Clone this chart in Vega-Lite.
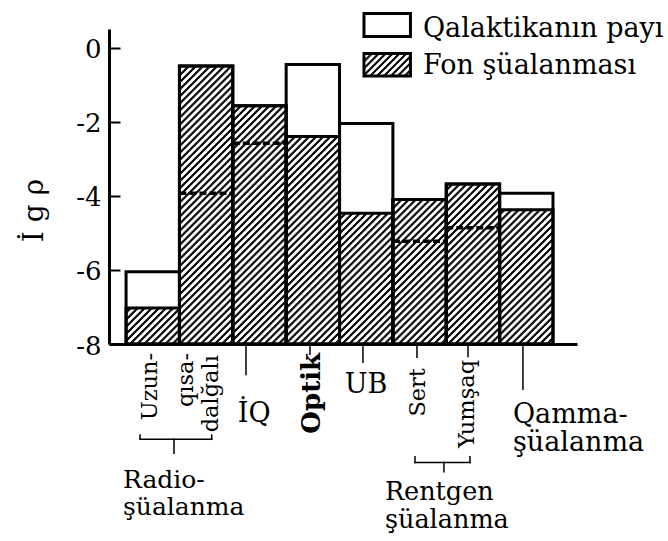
{
 "$schema": "https://vega.github.io/schema/vega-lite/v6.json",
 "width": 468,
 "height": 315,
 "autosize": {"type": "none"},
 "padding": {"left": 109, "top": 29, "right": 91, "bottom": 197},
 "background": "white",
 "config": {"view": {"stroke": null}, "font": "DejaVu Serif", "axis": {"grid": false}},
 "datasets": {
  "bars": [
   {"band": "Uzun", "x0": 0, "x1": 1, "top": -6.05, "fon": -7.03},
   {"band": "qısa", "x0": 1, "x1": 2, "top": -0.5, "fon": -0.5, "dash": -3.93},
   {"band": "İQ", "x0": 2, "x1": 3, "top": -1.57, "fon": -1.57, "dash": -2.58},
   {"band": "Optik", "x0": 3, "x1": 4, "top": -0.46, "fon": -2.4},
   {"band": "UB", "x0": 4, "x1": 5, "top": -2.05, "fon": -4.47},
   {"band": "Sert", "x0": 5, "x1": 6, "top": -4.1, "fon": -4.1, "dash": -5.23},
   {"band": "Yumşaq", "x0": 6, "x1": 7, "top": -3.68, "fon": -3.68, "dash": -4.86},
   {"band": "Qamma", "x0": 7, "x1": 8, "top": -3.93, "fon": -4.38}
  ],
  "hatcharea": [{"xa": 0, "xb": 8, "ya": -8, "yb": -0.45}],
  "tickmarks": [
   {"u": 2.247, "v": -8.84},
   {"u": 3.446, "v": -8.3},
   {"u": 4.439, "v": -8.51},
   {"u": 5.451, "v": -8.38},
   {"u": 6.407, "v": -8.36},
   {"u": 7.437, "v": -9.24}
  ],
  "brackets": [
   {"xa": 0.261, "xb": 1.604, "ya": -10.572, "yb": -10.572},
   {"xa": 0.261, "xb": 0.261, "ya": -10.572, "yb": -10.456},
   {"xa": 1.604, "xb": 1.604, "ya": -10.572, "yb": -10.456},
   {"xa": 0.898, "xb": 0.898, "ya": -10.572, "yb": -10.95},
   {"xa": 5.414, "xb": 6.444, "ya": -11.2, "yb": -11.2},
   {"xa": 5.414, "xb": 5.414, "ya": -11.2, "yb": -11.04},
   {"xa": 6.444, "xb": 6.444, "ya": -11.2, "yb": -11.04},
   {"xa": 5.957, "xb": 5.957, "ya": -11.2, "yb": -11.45}
  ],
  "vlabels": [
   {"t": "Uzun-", "u": 0.579, "v": -8.24},
   {"t": "qısa-", "u": 1.254, "v": -8.24},
   {"t": "dalğalı", "u": 1.722, "v": -8.3},
   {"t": "Sert", "u": 5.6, "v": -8.65},
   {"t": "Yumşaq", "u": 6.519, "v": -8.43}
  ],
  "optik": [{"t": "Optik", "u": 3.63, "v": -8.24}],
  "hlabels": [
   {"t": "İQ", "u": 2.4, "v": -10.1},
   {"t": "UB", "u": 4.495, "v": -9.32}
  ],
  "radio": [{"t": "Radio-\nşüalanma", "u": -0.058, "v": -11.886}],
  "rentgen": [{"t": "Rentgen\nşüalanma", "u": 4.85, "v": -12.21}],
  "gamma": [{"t": "Qamma-\nşüalanma", "u": 7.25, "v": -10.13}],
  "legendwhite": [{"xa": 4.458, "xb": 5.329, "ya": 0.917, "yb": 0.297}],
  "legendhatch": [{"xa": 4.458, "xb": 5.329, "ya": -0.162, "yb": -0.769}],
  "legendtext": [
   {"t": "Qalaktikanın payı", "u": 5.563, "v": 0.28},
   {"t": "Fon şüalanması", "u": 5.563, "v": -0.715}
  ]
 },
 "layer": [
  {
   "data": {"name": "hatcharea"},
   "mark": {"type": "rect", "strokeWidth": 0, "fill": {"gradient": "linear", "x1": 0, "y1": 0, "x2": 1.1581, "y2": 0.7589, "stops": [
{"offset":0.00,"color":"#111"},{"offset":0.003,"color":"#111"},{"offset":0.0045,"color":"#fff"},{"offset":0.0085,"color":"#fff"},
{"offset":0.01,"color":"#111"},{"offset":0.013,"color":"#111"},{"offset":0.0145,"color":"#fff"},{"offset":0.0185,"color":"#fff"},
{"offset":0.02,"color":"#111"},{"offset":0.023,"color":"#111"},{"offset":0.0245,"color":"#fff"},{"offset":0.0285,"color":"#fff"},
{"offset":0.03,"color":"#111"},{"offset":0.033,"color":"#111"},{"offset":0.0345,"color":"#fff"},{"offset":0.0385,"color":"#fff"},
{"offset":0.04,"color":"#111"},{"offset":0.043,"color":"#111"},{"offset":0.0445,"color":"#fff"},{"offset":0.0485,"color":"#fff"},
{"offset":0.05,"color":"#111"},{"offset":0.053,"color":"#111"},{"offset":0.0545,"color":"#fff"},{"offset":0.0585,"color":"#fff"},
{"offset":0.06,"color":"#111"},{"offset":0.063,"color":"#111"},{"offset":0.0645,"color":"#fff"},{"offset":0.0685,"color":"#fff"},
{"offset":0.07,"color":"#111"},{"offset":0.073,"color":"#111"},{"offset":0.0745,"color":"#fff"},{"offset":0.0785,"color":"#fff"},
{"offset":0.08,"color":"#111"},{"offset":0.083,"color":"#111"},{"offset":0.0845,"color":"#fff"},{"offset":0.0885,"color":"#fff"},
{"offset":0.09,"color":"#111"},{"offset":0.093,"color":"#111"},{"offset":0.0945,"color":"#fff"},{"offset":0.0985,"color":"#fff"},
{"offset":0.10,"color":"#111"},{"offset":0.103,"color":"#111"},{"offset":0.1045,"color":"#fff"},{"offset":0.1085,"color":"#fff"},
{"offset":0.11,"color":"#111"},{"offset":0.113,"color":"#111"},{"offset":0.1145,"color":"#fff"},{"offset":0.1185,"color":"#fff"},
{"offset":0.12,"color":"#111"},{"offset":0.123,"color":"#111"},{"offset":0.1245,"color":"#fff"},{"offset":0.1285,"color":"#fff"},
{"offset":0.13,"color":"#111"},{"offset":0.133,"color":"#111"},{"offset":0.1345,"color":"#fff"},{"offset":0.1385,"color":"#fff"},
{"offset":0.14,"color":"#111"},{"offset":0.143,"color":"#111"},{"offset":0.1445,"color":"#fff"},{"offset":0.1485,"color":"#fff"},
{"offset":0.15,"color":"#111"},{"offset":0.153,"color":"#111"},{"offset":0.1545,"color":"#fff"},{"offset":0.1585,"color":"#fff"},
{"offset":0.16,"color":"#111"},{"offset":0.163,"color":"#111"},{"offset":0.1645,"color":"#fff"},{"offset":0.1685,"color":"#fff"},
{"offset":0.17,"color":"#111"},{"offset":0.173,"color":"#111"},{"offset":0.1745,"color":"#fff"},{"offset":0.1785,"color":"#fff"},
{"offset":0.18,"color":"#111"},{"offset":0.183,"color":"#111"},{"offset":0.1845,"color":"#fff"},{"offset":0.1885,"color":"#fff"},
{"offset":0.19,"color":"#111"},{"offset":0.193,"color":"#111"},{"offset":0.1945,"color":"#fff"},{"offset":0.1985,"color":"#fff"},
{"offset":0.20,"color":"#111"},{"offset":0.203,"color":"#111"},{"offset":0.2045,"color":"#fff"},{"offset":0.2085,"color":"#fff"},
{"offset":0.21,"color":"#111"},{"offset":0.213,"color":"#111"},{"offset":0.2145,"color":"#fff"},{"offset":0.2185,"color":"#fff"},
{"offset":0.22,"color":"#111"},{"offset":0.223,"color":"#111"},{"offset":0.2245,"color":"#fff"},{"offset":0.2285,"color":"#fff"},
{"offset":0.23,"color":"#111"},{"offset":0.233,"color":"#111"},{"offset":0.2345,"color":"#fff"},{"offset":0.2385,"color":"#fff"},
{"offset":0.24,"color":"#111"},{"offset":0.243,"color":"#111"},{"offset":0.2445,"color":"#fff"},{"offset":0.2485,"color":"#fff"},
{"offset":0.25,"color":"#111"},{"offset":0.253,"color":"#111"},{"offset":0.2545,"color":"#fff"},{"offset":0.2585,"color":"#fff"},
{"offset":0.26,"color":"#111"},{"offset":0.263,"color":"#111"},{"offset":0.2645,"color":"#fff"},{"offset":0.2685,"color":"#fff"},
{"offset":0.27,"color":"#111"},{"offset":0.273,"color":"#111"},{"offset":0.2745,"color":"#fff"},{"offset":0.2785,"color":"#fff"},
{"offset":0.28,"color":"#111"},{"offset":0.283,"color":"#111"},{"offset":0.2845,"color":"#fff"},{"offset":0.2885,"color":"#fff"},
{"offset":0.29,"color":"#111"},{"offset":0.293,"color":"#111"},{"offset":0.2945,"color":"#fff"},{"offset":0.2985,"color":"#fff"},
{"offset":0.30,"color":"#111"},{"offset":0.303,"color":"#111"},{"offset":0.3045,"color":"#fff"},{"offset":0.3085,"color":"#fff"},
{"offset":0.31,"color":"#111"},{"offset":0.313,"color":"#111"},{"offset":0.3145,"color":"#fff"},{"offset":0.3185,"color":"#fff"},
{"offset":0.32,"color":"#111"},{"offset":0.323,"color":"#111"},{"offset":0.3245,"color":"#fff"},{"offset":0.3285,"color":"#fff"},
{"offset":0.33,"color":"#111"},{"offset":0.333,"color":"#111"},{"offset":0.3345,"color":"#fff"},{"offset":0.3385,"color":"#fff"},
{"offset":0.34,"color":"#111"},{"offset":0.343,"color":"#111"},{"offset":0.3445,"color":"#fff"},{"offset":0.3485,"color":"#fff"},
{"offset":0.35,"color":"#111"},{"offset":0.353,"color":"#111"},{"offset":0.3545,"color":"#fff"},{"offset":0.3585,"color":"#fff"},
{"offset":0.36,"color":"#111"},{"offset":0.363,"color":"#111"},{"offset":0.3645,"color":"#fff"},{"offset":0.3685,"color":"#fff"},
{"offset":0.37,"color":"#111"},{"offset":0.373,"color":"#111"},{"offset":0.3745,"color":"#fff"},{"offset":0.3785,"color":"#fff"},
{"offset":0.38,"color":"#111"},{"offset":0.383,"color":"#111"},{"offset":0.3845,"color":"#fff"},{"offset":0.3885,"color":"#fff"},
{"offset":0.39,"color":"#111"},{"offset":0.393,"color":"#111"},{"offset":0.3945,"color":"#fff"},{"offset":0.3985,"color":"#fff"},
{"offset":0.40,"color":"#111"},{"offset":0.403,"color":"#111"},{"offset":0.4045,"color":"#fff"},{"offset":0.4085,"color":"#fff"},
{"offset":0.41,"color":"#111"},{"offset":0.413,"color":"#111"},{"offset":0.4145,"color":"#fff"},{"offset":0.4185,"color":"#fff"},
{"offset":0.42,"color":"#111"},{"offset":0.423,"color":"#111"},{"offset":0.4245,"color":"#fff"},{"offset":0.4285,"color":"#fff"},
{"offset":0.43,"color":"#111"},{"offset":0.433,"color":"#111"},{"offset":0.4345,"color":"#fff"},{"offset":0.4385,"color":"#fff"},
{"offset":0.44,"color":"#111"},{"offset":0.443,"color":"#111"},{"offset":0.4445,"color":"#fff"},{"offset":0.4485,"color":"#fff"},
{"offset":0.45,"color":"#111"},{"offset":0.453,"color":"#111"},{"offset":0.4545,"color":"#fff"},{"offset":0.4585,"color":"#fff"},
{"offset":0.46,"color":"#111"},{"offset":0.463,"color":"#111"},{"offset":0.4645,"color":"#fff"},{"offset":0.4685,"color":"#fff"},
{"offset":0.47,"color":"#111"},{"offset":0.473,"color":"#111"},{"offset":0.4745,"color":"#fff"},{"offset":0.4785,"color":"#fff"},
{"offset":0.48,"color":"#111"},{"offset":0.483,"color":"#111"},{"offset":0.4845,"color":"#fff"},{"offset":0.4885,"color":"#fff"},
{"offset":0.49,"color":"#111"},{"offset":0.493,"color":"#111"},{"offset":0.4945,"color":"#fff"},{"offset":0.4985,"color":"#fff"},
{"offset":0.50,"color":"#111"},{"offset":0.503,"color":"#111"},{"offset":0.5045,"color":"#fff"},{"offset":0.5085,"color":"#fff"},
{"offset":0.51,"color":"#111"},{"offset":0.513,"color":"#111"},{"offset":0.5145,"color":"#fff"},{"offset":0.5185,"color":"#fff"},
{"offset":0.52,"color":"#111"},{"offset":0.523,"color":"#111"},{"offset":0.5245,"color":"#fff"},{"offset":0.5285,"color":"#fff"},
{"offset":0.53,"color":"#111"},{"offset":0.533,"color":"#111"},{"offset":0.5345,"color":"#fff"},{"offset":0.5385,"color":"#fff"},
{"offset":0.54,"color":"#111"},{"offset":0.543,"color":"#111"},{"offset":0.5445,"color":"#fff"},{"offset":0.5485,"color":"#fff"},
{"offset":0.55,"color":"#111"},{"offset":0.553,"color":"#111"},{"offset":0.5545,"color":"#fff"},{"offset":0.5585,"color":"#fff"},
{"offset":0.56,"color":"#111"},{"offset":0.563,"color":"#111"},{"offset":0.5645,"color":"#fff"},{"offset":0.5685,"color":"#fff"},
{"offset":0.57,"color":"#111"},{"offset":0.573,"color":"#111"},{"offset":0.5745,"color":"#fff"},{"offset":0.5785,"color":"#fff"},
{"offset":0.58,"color":"#111"},{"offset":0.583,"color":"#111"},{"offset":0.5845,"color":"#fff"},{"offset":0.5885,"color":"#fff"},
{"offset":0.59,"color":"#111"},{"offset":0.593,"color":"#111"},{"offset":0.5945,"color":"#fff"},{"offset":0.5985,"color":"#fff"},
{"offset":0.60,"color":"#111"},{"offset":0.603,"color":"#111"},{"offset":0.6045,"color":"#fff"},{"offset":0.6085,"color":"#fff"},
{"offset":0.61,"color":"#111"},{"offset":0.613,"color":"#111"},{"offset":0.6145,"color":"#fff"},{"offset":0.6185,"color":"#fff"},
{"offset":0.62,"color":"#111"},{"offset":0.623,"color":"#111"},{"offset":0.6245,"color":"#fff"},{"offset":0.6285,"color":"#fff"},
{"offset":0.63,"color":"#111"},{"offset":0.633,"color":"#111"},{"offset":0.6345,"color":"#fff"},{"offset":0.6385,"color":"#fff"},
{"offset":0.64,"color":"#111"},{"offset":0.643,"color":"#111"},{"offset":0.6445,"color":"#fff"},{"offset":0.6485,"color":"#fff"},
{"offset":0.65,"color":"#111"},{"offset":0.653,"color":"#111"},{"offset":0.6545,"color":"#fff"},{"offset":0.6585,"color":"#fff"},
{"offset":0.66,"color":"#111"},{"offset":0.663,"color":"#111"},{"offset":0.6645,"color":"#fff"},{"offset":0.6685,"color":"#fff"},
{"offset":0.67,"color":"#111"},{"offset":0.673,"color":"#111"},{"offset":0.6745,"color":"#fff"},{"offset":0.6785,"color":"#fff"},
{"offset":0.68,"color":"#111"},{"offset":0.683,"color":"#111"},{"offset":0.6845,"color":"#fff"},{"offset":0.6885,"color":"#fff"},
{"offset":0.69,"color":"#111"},{"offset":0.693,"color":"#111"},{"offset":0.6945,"color":"#fff"},{"offset":0.6985,"color":"#fff"},
{"offset":0.70,"color":"#111"},{"offset":0.703,"color":"#111"},{"offset":0.7045,"color":"#fff"},{"offset":0.7085,"color":"#fff"},
{"offset":0.71,"color":"#111"},{"offset":0.713,"color":"#111"},{"offset":0.7145,"color":"#fff"},{"offset":0.7185,"color":"#fff"},
{"offset":0.72,"color":"#111"},{"offset":0.723,"color":"#111"},{"offset":0.7245,"color":"#fff"},{"offset":0.7285,"color":"#fff"},
{"offset":0.73,"color":"#111"},{"offset":0.733,"color":"#111"},{"offset":0.7345,"color":"#fff"},{"offset":0.7385,"color":"#fff"},
{"offset":0.74,"color":"#111"},{"offset":0.743,"color":"#111"},{"offset":0.7445,"color":"#fff"},{"offset":0.7485,"color":"#fff"},
{"offset":0.75,"color":"#111"},{"offset":0.753,"color":"#111"},{"offset":0.7545,"color":"#fff"},{"offset":0.7585,"color":"#fff"},
{"offset":0.76,"color":"#111"},{"offset":0.763,"color":"#111"},{"offset":0.7645,"color":"#fff"},{"offset":0.7685,"color":"#fff"},
{"offset":0.77,"color":"#111"},{"offset":0.773,"color":"#111"},{"offset":0.7745,"color":"#fff"},{"offset":0.7785,"color":"#fff"},
{"offset":0.78,"color":"#111"},{"offset":0.783,"color":"#111"},{"offset":0.7845,"color":"#fff"},{"offset":0.7885,"color":"#fff"},
{"offset":0.79,"color":"#111"},{"offset":0.793,"color":"#111"},{"offset":0.7945,"color":"#fff"},{"offset":0.7985,"color":"#fff"},
{"offset":0.80,"color":"#111"},{"offset":0.803,"color":"#111"},{"offset":0.8045,"color":"#fff"},{"offset":0.8085,"color":"#fff"},
{"offset":0.81,"color":"#111"},{"offset":0.813,"color":"#111"},{"offset":0.8145,"color":"#fff"},{"offset":0.8185,"color":"#fff"},
{"offset":0.82,"color":"#111"},{"offset":0.823,"color":"#111"},{"offset":0.8245,"color":"#fff"},{"offset":0.8285,"color":"#fff"},
{"offset":0.83,"color":"#111"},{"offset":0.833,"color":"#111"},{"offset":0.8345,"color":"#fff"},{"offset":0.8385,"color":"#fff"},
{"offset":0.84,"color":"#111"},{"offset":0.843,"color":"#111"},{"offset":0.8445,"color":"#fff"},{"offset":0.8485,"color":"#fff"},
{"offset":0.85,"color":"#111"},{"offset":0.853,"color":"#111"},{"offset":0.8545,"color":"#fff"},{"offset":0.8585,"color":"#fff"},
{"offset":0.86,"color":"#111"},{"offset":0.863,"color":"#111"},{"offset":0.8645,"color":"#fff"},{"offset":0.8685,"color":"#fff"},
{"offset":0.87,"color":"#111"},{"offset":0.873,"color":"#111"},{"offset":0.8745,"color":"#fff"},{"offset":0.8785,"color":"#fff"},
{"offset":0.88,"color":"#111"},{"offset":0.883,"color":"#111"},{"offset":0.8845,"color":"#fff"},{"offset":0.8885,"color":"#fff"},
{"offset":0.89,"color":"#111"},{"offset":0.893,"color":"#111"},{"offset":0.8945,"color":"#fff"},{"offset":0.8985,"color":"#fff"},
{"offset":0.90,"color":"#111"},{"offset":0.903,"color":"#111"},{"offset":0.9045,"color":"#fff"},{"offset":0.9085,"color":"#fff"},
{"offset":0.91,"color":"#111"},{"offset":0.913,"color":"#111"},{"offset":0.9145,"color":"#fff"},{"offset":0.9185,"color":"#fff"},
{"offset":0.92,"color":"#111"},{"offset":0.923,"color":"#111"},{"offset":0.9245,"color":"#fff"},{"offset":0.9285,"color":"#fff"},
{"offset":0.93,"color":"#111"},{"offset":0.933,"color":"#111"},{"offset":0.9345,"color":"#fff"},{"offset":0.9385,"color":"#fff"},
{"offset":0.94,"color":"#111"},{"offset":0.943,"color":"#111"},{"offset":0.9445,"color":"#fff"},{"offset":0.9485,"color":"#fff"},
{"offset":0.95,"color":"#111"},{"offset":0.953,"color":"#111"},{"offset":0.9545,"color":"#fff"},{"offset":0.9585,"color":"#fff"},
{"offset":0.96,"color":"#111"},{"offset":0.963,"color":"#111"},{"offset":0.9645,"color":"#fff"},{"offset":0.9685,"color":"#fff"},
{"offset":0.97,"color":"#111"},{"offset":0.973,"color":"#111"},{"offset":0.9745,"color":"#fff"},{"offset":0.9785,"color":"#fff"},
{"offset":0.98,"color":"#111"},{"offset":0.983,"color":"#111"},{"offset":0.9845,"color":"#fff"},{"offset":0.9885,"color":"#fff"},
{"offset":0.99,"color":"#111"},{"offset":0.993,"color":"#111"},{"offset":0.9945,"color":"#fff"},{"offset":0.9985,"color":"#fff"}
   ]}},
   "encoding": {
    "x": {"field": "xa", "type": "quantitative", "scale": {"domain": [-0.32, 8.45], "nice": false, "zero": false},
     "axis": {"title": null, "labels": false, "ticks": false, "grid": false, "domainColor": "black", "domainWidth": 3, "zindex": 1}},
    "x2": {"field": "xb"},
    "y": {"field": "ya", "type": "quantitative", "scale": {"domain": [-8, 0.5], "nice": false, "zero": false},
     "axis": {"title": "İ g ρ", "titleFont": "DejaVu Serif", "titleFontSize": 28, "titleFontWeight": "normal", "titleColor": "black",
      "titleAngle": -90, "titleX": -67, "titleY": 181, "titleAlign": "center", "titleBaseline": "alphabetic",
      "values": [0, -2, -4, -6, -8], "labelExpr": "'' + datum.value", "labelFont": "DejaVu Serif", "labelFontSize": 26,
      "labelColor": "black", "labelPadding": 19, "labelOffset": 2, "labelBaseline": "middle", "labelOverlap": false, "labelFlush": false,
      "tickSize": -11, "tickWidth": 2, "tickColor": "black", "domainColor": "black", "domainWidth": 3, "grid": false, "zindex": 1}},
    "y2": {"field": "yb"}
   }
  },
  {
   "data": {"name": "bars"},
   "mark": {"type": "rect", "fill": "white", "stroke": "white", "strokeWidth": 1.5},
   "encoding": {
    "x": {"field": "x0", "type": "quantitative"},
    "x2": {"field": "x1"},
    "y": {"field": "fon", "type": "quantitative"},
    "y2": {"datum": 0.5}
   }
  },
  {
   "data": {"name": "bars"},
   "mark": {"type": "rect", "fill": "transparent", "stroke": "black", "strokeWidth": 3},
   "encoding": {
    "x": {"field": "x0", "type": "quantitative"},
    "x2": {"field": "x1"},
    "y": {"field": "top", "type": "quantitative"},
    "y2": {"datum": -8}
   }
  },
  {
   "data": {"name": "bars"},
   "mark": {"type": "rect", "fill": "transparent", "stroke": "black", "strokeWidth": 3},
   "encoding": {
    "x": {"field": "x0", "type": "quantitative"},
    "x2": {"field": "x1"},
    "y": {"field": "fon", "type": "quantitative"},
    "y2": {"datum": -8}
   }
  },
  {
   "data": {"name": "bars"},
   "transform": [{"filter": "isValid(datum.dash)"}],
   "mark": {"type": "rule", "color": "black", "strokeWidth": 3.5, "strokeDash": [7, 3]},
   "encoding": {
    "x": {"field": "x0", "type": "quantitative"},
    "x2": {"field": "x1"},
    "y": {"field": "dash", "type": "quantitative"}
   }
  },
  {
   "data": {"name": "tickmarks"},
   "mark": {"type": "rule", "color": "black", "strokeWidth": 1.5},
   "encoding": {
    "x": {"field": "u", "type": "quantitative"},
    "y": {"field": "v", "type": "quantitative"},
    "y2": {"datum": -8}
   }
  },
  {
   "data": {"name": "brackets"},
   "mark": {"type": "rule", "color": "black", "strokeWidth": 1.5, "strokeCap": "square"},
   "encoding": {
    "x": {"field": "xa", "type": "quantitative"},
    "x2": {"field": "xb"},
    "y": {"field": "ya", "type": "quantitative"},
    "y2": {"field": "yb"}
   }
  },
  {
   "data": {"name": "vlabels"},
   "mark": {"type": "text", "angle": 270, "align": "right", "baseline": "alphabetic", "font": "DejaVu Serif", "fontSize": 22.5, "color": "black"},
   "encoding": {
    "x": {"field": "u", "type": "quantitative"},
    "y": {"field": "v", "type": "quantitative"},
    "text": {"field": "t"}
   }
  },
  {
   "data": {"name": "optik"},
   "mark": {"type": "text", "angle": 270, "align": "right", "baseline": "alphabetic", "font": "DejaVu Serif", "fontSize": 26, "fontWeight": "bold", "color": "black"},
   "encoding": {
    "x": {"field": "u", "type": "quantitative"},
    "y": {"field": "v", "type": "quantitative"},
    "text": {"field": "t"}
   }
  },
  {
   "data": {"name": "hlabels"},
   "mark": {"type": "text", "align": "center", "baseline": "alphabetic", "font": "DejaVu Serif", "fontSize": 27, "color": "black"},
   "encoding": {
    "x": {"field": "u", "type": "quantitative"},
    "y": {"field": "v", "type": "quantitative"},
    "text": {"field": "t"}
   }
  },
  {
   "data": {"name": "radio"},
   "mark": {"type": "text", "align": "left", "baseline": "alphabetic", "font": "DejaVu Serif", "fontSize": 25, "lineHeight": 27, "lineBreak": "\n", "color": "black"},
   "encoding": {
    "x": {"field": "u", "type": "quantitative"},
    "y": {"field": "v", "type": "quantitative"},
    "text": {"field": "t"}
   }
  },
  {
   "data": {"name": "rentgen"},
   "mark": {"type": "text", "align": "left", "baseline": "alphabetic", "font": "DejaVu Serif", "fontSize": 25.5, "lineHeight": 28, "lineBreak": "\n", "color": "black"},
   "encoding": {
    "x": {"field": "u", "type": "quantitative"},
    "y": {"field": "v", "type": "quantitative"},
    "text": {"field": "t"}
   }
  },
  {
   "data": {"name": "gamma"},
   "mark": {"type": "text", "align": "left", "baseline": "alphabetic", "font": "DejaVu Serif", "fontSize": 27, "lineHeight": 28, "lineBreak": "\n", "color": "black"},
   "encoding": {
    "x": {"field": "u", "type": "quantitative"},
    "y": {"field": "v", "type": "quantitative"},
    "text": {"field": "t"}
   }
  },
  {
   "data": {"name": "legendwhite"},
   "mark": {"type": "rect", "fill": "white", "stroke": "black", "strokeWidth": 3},
   "encoding": {
    "x": {"field": "xa", "type": "quantitative"},
    "x2": {"field": "xb"},
    "y": {"field": "ya", "type": "quantitative"},
    "y2": {"field": "yb"}
   }
  },
  {
   "data": {"name": "legendhatch"},
   "mark": {"type": "rect", "stroke": "black", "strokeWidth": 3, "fill": {"gradient": "linear", "x1": 0, "y1": 0, "x2": 1.2026, "y2": 0.5819, "stops": [
{"offset":0.0,"color":"#111"},{"offset":0.03,"color":"#111"},{"offset":0.045,"color":"#fff"},{"offset":0.085,"color":"#fff"},
{"offset":0.1,"color":"#111"},{"offset":0.13,"color":"#111"},{"offset":0.145,"color":"#fff"},{"offset":0.185,"color":"#fff"},
{"offset":0.2,"color":"#111"},{"offset":0.23,"color":"#111"},{"offset":0.245,"color":"#fff"},{"offset":0.285,"color":"#fff"},
{"offset":0.3,"color":"#111"},{"offset":0.33,"color":"#111"},{"offset":0.345,"color":"#fff"},{"offset":0.385,"color":"#fff"},
{"offset":0.4,"color":"#111"},{"offset":0.43,"color":"#111"},{"offset":0.445,"color":"#fff"},{"offset":0.485,"color":"#fff"},
{"offset":0.5,"color":"#111"},{"offset":0.53,"color":"#111"},{"offset":0.545,"color":"#fff"},{"offset":0.585,"color":"#fff"},
{"offset":0.6,"color":"#111"},{"offset":0.63,"color":"#111"},{"offset":0.645,"color":"#fff"},{"offset":0.685,"color":"#fff"},
{"offset":0.7,"color":"#111"},{"offset":0.73,"color":"#111"},{"offset":0.745,"color":"#fff"},{"offset":0.785,"color":"#fff"},
{"offset":0.8,"color":"#111"},{"offset":0.83,"color":"#111"},{"offset":0.845,"color":"#fff"},{"offset":0.885,"color":"#fff"},
{"offset":0.9,"color":"#111"},{"offset":0.93,"color":"#111"},{"offset":0.945,"color":"#fff"},{"offset":0.985,"color":"#fff"}
   ]}},
   "encoding": {
    "x": {"field": "xa", "type": "quantitative"},
    "x2": {"field": "xb"},
    "y": {"field": "ya", "type": "quantitative"},
    "y2": {"field": "yb"}
   }
  },
  {
   "data": {"name": "legendtext"},
   "mark": {"type": "text", "align": "left", "baseline": "alphabetic", "font": "DejaVu Serif", "fontSize": 27, "color": "black"},
   "encoding": {
    "x": {"field": "u", "type": "quantitative"},
    "y": {"field": "v", "type": "quantitative"},
    "text": {"field": "t"}
   }
  }
 ]
}
